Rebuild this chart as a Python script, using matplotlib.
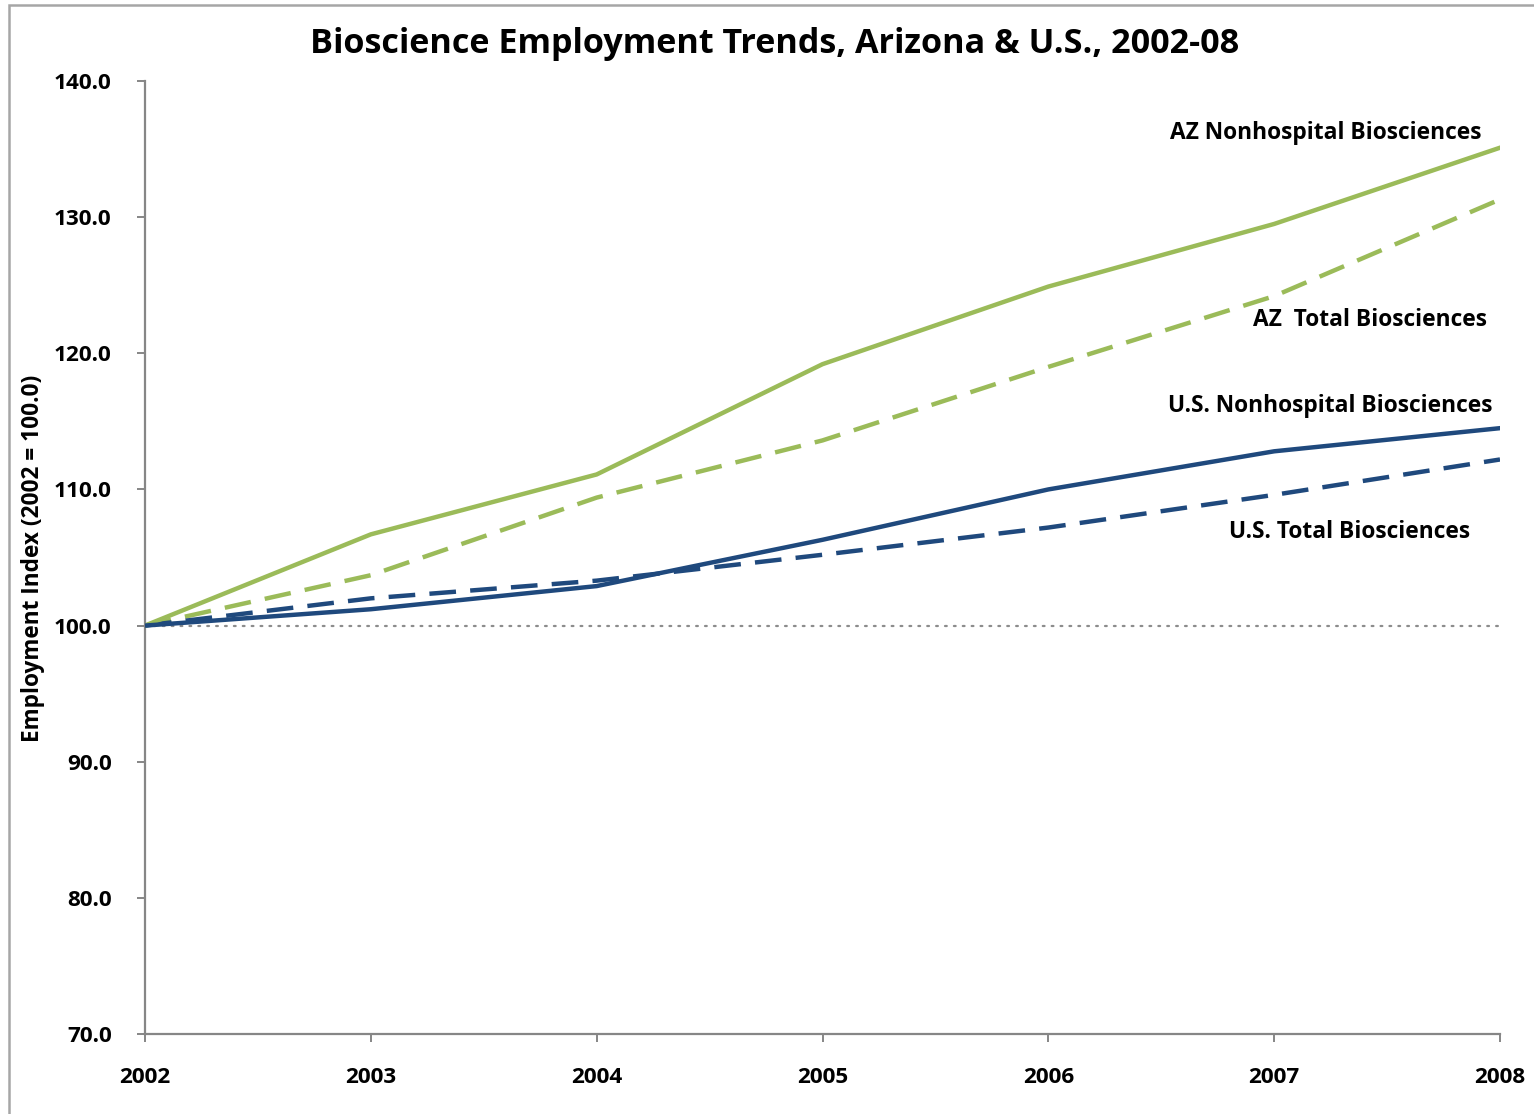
import matplotlib
matplotlib.use("Agg")
import matplotlib.pyplot as plt
from matplotlib.patches import Rectangle

# Employment index by year (2002 = 100.0)
years = [2002, 2003, 2004, 2005, 2006, 2007, 2008]
az_nonhospital = [100.0, 106.7, 111.1, 119.2, 124.9, 129.5, 135.1]
az_total = [100.0, 103.7, 109.4, 113.6, 119.0, 124.2, 131.3]
us_nonhospital = [100.0, 101.2, 102.9, 106.3, 110.0, 112.8, 114.5]
us_total = [100.0, 102.0, 103.3, 105.2, 107.2, 109.6, 112.2]

series_labels = ["AZ Nonhospital Biosciences", "AZ  Total Biosciences",
                 "U.S. Nonhospital Biosciences", "U.S. Total Biosciences"]
y_ticks = [70.0, 80.0, 90.0, 100.0, 110.0, 120.0, 130.0, 140.0]

GREEN = "#9BBB59"
BLUE = "#1F497D"
AXIS_GRAY = "#868686"

plt.rcParams["font.family"] = ["Open Sans", "DejaVu Sans"]
plt.rcParams["font.weight"] = "bold"

fig = plt.figure(figsize=(15.34, 11.14), dpi=100)
fig.patch.set_facecolor("white")

# outer chart frame
fig.patches.append(Rectangle((9 / 1534, -0.05), 1.2, 0.05 + 1 - 4.5 / 1114,
                             transform=fig.transFigure, fill=False,
                             edgecolor="#A6A6A6", linewidth=1.8, zorder=0))

ax = fig.add_axes([145 / 1534, 1 - 1034 / 1114, (1500 - 145) / 1534, (1034 - 81) / 1114])

ax.axhline(100.0, color="#8C8C8C", linewidth=1.6, linestyle=(0, (0.8, 3.2)),
           dash_capstyle="round", zorder=1)

dash = (0, (6, 3.2))
ax.plot(years, az_total, color=GREEN, linewidth=3.2, linestyle=dash, zorder=2)
ax.plot(years, us_total, color=BLUE, linewidth=3.2, linestyle=dash, zorder=3)
ax.plot(years, az_nonhospital, color=GREEN, linewidth=3.2, zorder=4)
ax.plot(years, us_nonhospital, color=BLUE, linewidth=3.2, zorder=5)

ax.set_xlim(2002, 2008)
ax.set_ylim(70, 140)
ax.set_xticks(years)
ax.set_xticklabels([str(y) for y in years])
ax.set_yticks(y_ticks)
ax.set_yticklabels([f"{v:.1f}" for v in y_ticks])

for side in ("top", "right"):
    ax.spines[side].set_visible(False)
for side in ("left", "bottom"):
    ax.spines[side].set_color(AXIS_GRAY)
    ax.spines[side].set_linewidth(1.6)

ax.tick_params(axis="both", direction="out", length=6, width=1.4,
               color=AXIS_GRAY, labelsize=16.2, labelcolor="black")
ax.tick_params(axis="y", pad=18)
ax.tick_params(axis="x", pad=18)
for lbl in ax.get_xticklabels() + ax.get_yticklabels():
    lbl.set_fontweight("bold")

fig.text(33 / 1534, 1 - 558 / 1114, "Employment Index (2002 = 100.0)", rotation=90,
         ha="center", va="center", fontsize=16.3, fontweight="bold")

fig.text(775 / 1534, 1 - 44 / 1114, "Bioscience Employment Trends, Arizona & U.S., 2002-08",
         ha="center", va="center", fontsize=24.6, fontweight="bold")

# series labels near the right end of each line
label_pos = [(1482, 133), (1487, 320), (1492, 406), (1470, 532)]
for text, (px, py) in zip(series_labels, label_pos):
    fig.text(px / 1534, 1 - py / 1114, text, ha="right", va="center",
             fontsize=16.4, fontweight="bold")

fig.savefig("out.png", dpi=100, facecolor="white")
